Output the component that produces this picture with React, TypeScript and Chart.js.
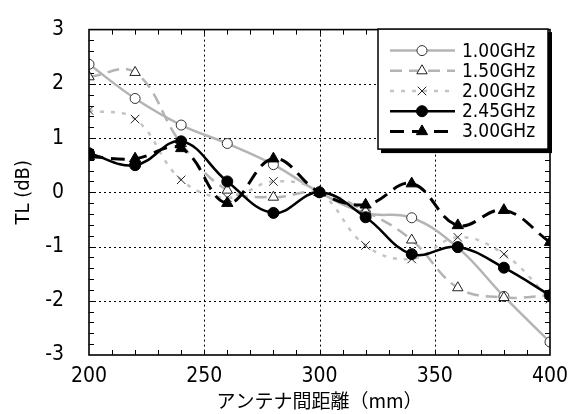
import React, { useEffect, useRef } from 'react';
import { Chart, registerables } from 'chart.js';
import { drawPoint } from 'chart.js/helpers';

Chart.register(...registerables);

// ---- data ----
const distances = [200, 220, 240, 260, 280, 300, 320, 340, 360, 380, 400];
const tl100 = [2.36, 1.73, 1.24, 0.9, 0.51, 0.0, -0.38, -0.47, -1.02, -1.92, -2.76];
const tl150 = [2.13, 2.21, 0.9, 0.04, -0.09, 0.0, -0.35, -0.88, -1.76, -1.94, -1.9];
const tl200 = [1.51, 1.35, 0.23, -0.1, 0.2, 0.0, -0.98, -1.23, -0.83, -1.14, -1.97];
const tl245 = [0.72, 0.5, 0.94, 0.2, -0.38, 0.0, -0.46, -1.14, -1.01, -1.39, -1.9];
const tl300 = [0.66, 0.62, 0.81, -0.2, 0.62, 0.0, -0.23, 0.16, -0.61, -0.33, -0.92];
const seriesLabels = ['1.00GHz', '1.50GHz', '2.00GHz', '2.45GHz', '3.00GHz'];
const xTitle = 'アンテナ間距離（mm）';
const yTitle = 'TL (dB)';
const xMin = 200, xMax = 400, xStep = 50, xMinor = 10;
const yMin = -3, yMax = 3, yStep = 1, yMinor = 0.2;

const NARROW = '"Liberation Sans Narrow", "DejaVu Sans Condensed", "Arial Narrow", sans-serif';

const pts = (arr: number[]) => distances.map((d, i) => ({ x: d, y: arr[i] }));

const framePlugin = {
  id: 'frame',
  beforeDatasetsDraw(chart: any) {
    const { ctx, chartArea: a, scales } = chart;
    const x = scales.x, y = scales.y;
    ctx.save();
    ctx.strokeStyle = '#000';
    ctx.lineWidth = 1;
    ctx.setLineDash([2, 3]);
    for (let v = xMin + xStep; v < xMax; v += xStep) {
      const px = Math.round(x.getPixelForValue(v)) + 0.5;
      ctx.beginPath(); ctx.moveTo(px, a.top); ctx.lineTo(px, a.bottom); ctx.stroke();
    }
    for (let v = yMin + yStep; v < yMax; v += yStep) {
      const py = Math.round(y.getPixelForValue(v)) + 0.5;
      ctx.beginPath(); ctx.moveTo(a.left, py); ctx.lineTo(a.right, py); ctx.stroke();
    }
    ctx.setLineDash([]);
    ctx.lineWidth = 1;
    const tl = 5;
    const nx = Math.round((xMax - xMin) / xMinor);
    for (let i = 1; i < nx; i++) {
      const px = Math.round(x.getPixelForValue(xMin + i * xMinor)) + 0.5;
      ctx.beginPath();
      ctx.moveTo(px, a.bottom); ctx.lineTo(px, a.bottom - tl);
      ctx.moveTo(px, a.top); ctx.lineTo(px, a.top + tl);
      ctx.stroke();
    }
    const ny = Math.round((yMax - yMin) / yMinor);
    for (let i = 1; i < ny; i++) {
      const py = Math.round(y.getPixelForValue(yMin + i * yMinor)) + 0.5;
      ctx.beginPath();
      ctx.moveTo(a.left, py); ctx.lineTo(a.left + tl, py);
      ctx.moveTo(a.right, py); ctx.lineTo(a.right - tl, py);
      ctx.stroke();
    }
    ctx.restore();
  },
  afterDatasetsDraw(chart: any) {
    const { ctx, chartArea: a } = chart;
    ctx.save();
    ctx.strokeStyle = '#000';
    ctx.lineWidth = 1.6;
    ctx.strokeRect(a.left, a.top, a.right - a.left, a.bottom - a.top);
    ctx.restore();
  },
};

const legendPlugin = {
  id: 'boxLegend',
  afterDraw(chart: any) {
    const { ctx, chartArea: a } = chart;
    const w = 170, h = 120;
    const left = a.right - w - 2;
    const top = a.top - 0.5;
    ctx.save();
    ctx.fillStyle = '#000';
    ctx.fillRect(left + 3, top + 3, w + 1, h + 1);
    ctx.fillStyle = '#fff';
    ctx.fillRect(left, top, w, h);
    ctx.strokeStyle = '#000';
    ctx.lineWidth = 1.5;
    ctx.strokeRect(left, top, w, h);
    const dsList = chart.data.datasets;
    dsList.forEach((ds: any, i: number) => {
      const cy = top + 21.5 + i * 20.2;
      ctx.save();
      ctx.strokeStyle = ds.borderColor;
      ctx.lineWidth = ds.borderWidth;
      ctx.setLineDash(ds.borderDash || []);
      ctx.beginPath();
      ctx.moveTo(left + 12, cy);
      ctx.lineTo(left + 77, cy);
      ctx.stroke();
      ctx.setLineDash([]);
      ctx.fillStyle = ds.pointBackgroundColor;
      ctx.strokeStyle = ds.pointBorderColor;
      ctx.lineWidth = ds.pointBorderWidth;
      drawPoint(ctx, { pointStyle: ds.pointStyle, rotation: 0, radius: ds.pointRadius, borderWidth: ds.pointBorderWidth }, left + 44, cy);
      ctx.restore();
      ctx.fillStyle = '#000';
      ctx.font = '19px ' + NARROW;
      ctx.textBaseline = 'middle';
      ctx.textAlign = 'left';
      ctx.fillText(seriesLabels[i], left + 84, cy + 1);
    });
    ctx.restore();
  },
};

export default function App() {
  const ref = useRef<HTMLCanvasElement>(null);
  useEffect(() => {
    if (!ref.current) return;
    const common = { tension: 0.4, fill: false, borderCapStyle: 'butt' as const };
    const chart = new Chart(ref.current, {
      type: 'line',
      data: {
        datasets: [
          {
            ...common, label: seriesLabels[0], data: pts(tl100), order: 5,
            borderColor: '#b4b4b4', borderWidth: 2.5, borderDash: [],
            pointStyle: 'circle', pointRadius: 5, pointBorderWidth: 1,
            pointBackgroundColor: '#fff', pointBorderColor: '#333',
          },
          {
            ...common, label: seriesLabels[1], data: pts(tl150), order: 4,
            borderColor: '#b4b4b4', borderWidth: 2.5, borderDash: [12, 7],
            pointStyle: 'triangle', pointRadius: 6, pointBorderWidth: 1,
            pointBackgroundColor: '#fff', pointBorderColor: '#222',
          },
          {
            ...common, label: seriesLabels[2], data: pts(tl200), order: 3,
            borderColor: '#c4c4c4', borderWidth: 2.5, borderDash: [4, 7],
            pointStyle: 'crossRot', pointRadius: 6, pointBorderWidth: 1,
            pointBackgroundColor: '#fff', pointBorderColor: '#222',
          },
          {
            ...common, label: seriesLabels[3], data: pts(tl245), order: 2,
            borderColor: '#000', borderWidth: 2.5, borderDash: [],
            pointStyle: 'circle', pointRadius: 5.5, pointBorderWidth: 1,
            pointBackgroundColor: '#000', pointBorderColor: '#000',
          },
          {
            ...common, label: seriesLabels[4], data: pts(tl300), order: 1,
            borderColor: '#000', borderWidth: 3, borderDash: [14, 8],
            pointStyle: 'triangle', pointRadius: 6.5, pointBorderWidth: 1,
            pointBackgroundColor: '#000', pointBorderColor: '#000',
          },
        ],
      },
      options: {
        animation: false,
        responsive: false,
        devicePixelRatio: 1,
        layout: { padding: { left: 0, right: 23, top: 16, bottom: 0 } },
        plugins: { legend: { display: false }, tooltip: { enabled: false } },
        scales: {
          x: {
            type: 'linear', min: xMin, max: xMax,
            ticks: { stepSize: xStep, color: '#000', padding: 1, font: { family: NARROW, size: 21 }, maxRotation: 0 },
            grid: { display: false },
            border: { display: false },
            title: { display: true, text: xTitle, color: '#000', font: { family: '"Noto Sans CJK JP", sans-serif', size: 19 }, padding: { top: 0, bottom: 2 } },
            afterFit: (s: any) => { s.height = 59; },
          },
          y: {
            type: 'linear', min: yMin, max: yMax,
            ticks: { stepSize: yStep, color: '#000', padding: 17, font: { family: NARROW, size: 21 } },
            grid: { display: false },
            border: { display: false },
            title: { display: true, text: yTitle, color: '#000', font: { family: NARROW, size: 20 }, padding: { top: 12, bottom: 0 } },
            afterFit: (s: any) => { s.width = 89; },
          },
        },
      },
      plugins: [framePlugin, legendPlugin],
    });
    return () => chart.destroy();
  }, []);
  return (
    <div style={{ position: 'absolute', left: 0, top: 0, width: 573, height: 414, background: '#fff' }}>
      <canvas ref={ref} width={573} height={414} />
    </div>
  );
}
